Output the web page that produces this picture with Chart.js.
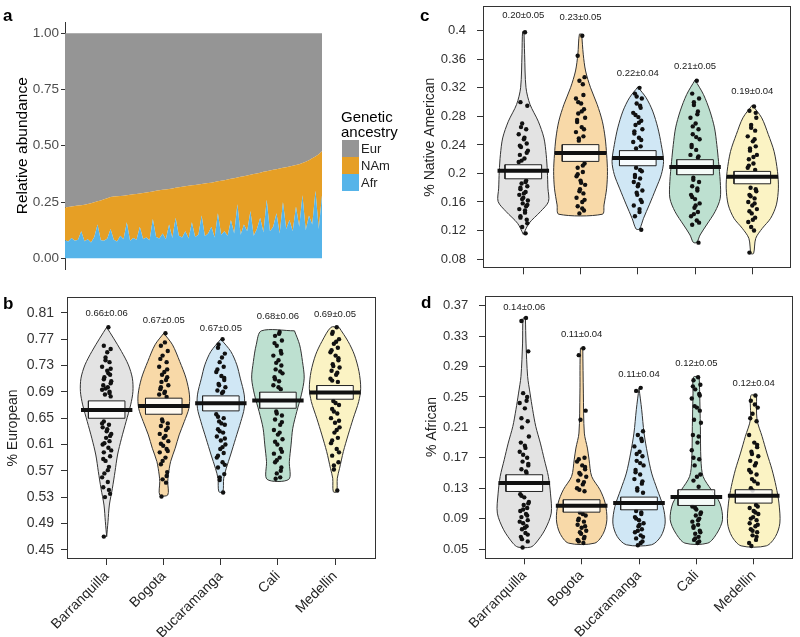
<!DOCTYPE html>
<html>
<head>
<meta charset="utf-8">
<script src="https://cdn.jsdelivr.net/npm/chart.js@4.4.1/dist/chart.umd.min.js"></script>
<style>
  body { margin: 0; background: #fff; font-family: "Liberation Sans", Arial, sans-serif; }
  #fig { position: relative; width: 800px; height: 637px; overflow: hidden; }
  canvas { position: absolute; }
  .tag { position: absolute; font-weight: bold; font-size: 17px; line-height: 17px; color: #000; }
  .legtitle { position: absolute; left: 341px; top: 109px; font-size: 15px; line-height: 15px; color: #000; }
  .key { position: absolute; left: 342px; width: 17px; height: 17px; }
  .keylab { position: absolute; left: 361px; font-size: 13px; line-height: 17px; color: #222; }
</style>
</head>
<body>
<div id="fig">
  <canvas id="panelA" width="400" height="280" style="left:0;top:0;width:400px;height:280px"></canvas>
  <canvas id="panelB" width="400" height="357" style="left:0;top:280px;width:400px;height:357px"></canvas>
  <canvas id="panelC" width="400" height="290" style="left:400px;top:0;width:400px;height:290px"></canvas>
  <canvas id="panelD" width="400" height="347" style="left:400px;top:290px;width:400px;height:347px"></canvas>

  <div class="tag" style="left:3px;top:7px">a</div>
  <div class="tag" style="left:3px;top:295px">b</div>
  <div class="tag" style="left:420px;top:7px">c</div>
  <div class="tag" style="left:421px;top:294px">d</div>

  <div class="legtitle">Genetic<br>ancestry</div>
  <div id="legend"></div>
</div>

<script>
Chart.defaults.font.family = "'Liberation Sans', Arial, sans-serif";

// ---------- panel a: per-sample ancestry, sorted ----------
const ancestry = ['Eur', 'NAm', 'Afr'];
const ancestryColors = ['#959595', '#E69F25', '#56B4E9'];
// Afr + NAm (upper edge of the orange band)
const nonEur = [0.226,0.228,0.230,0.232,0.234,0.236,0.238,0.241,
  0.245,0.249,0.253,0.257,0.262,0.267,0.272,
  0.275,0.276,0.277,0.278,0.280,0.282,0.284,
  0.286,0.288,0.290,0.292,0.294,0.297,0.300,
  0.302,0.304,0.306,0.308,0.310,0.313,0.316,
  0.318,0.320,0.322,0.324,0.326,0.328,0.330,
  0.332,0.334,0.336,0.339,0.342,0.344,0.347,
  0.350,0.353,0.356,0.359,0.362,0.365,0.368,
  0.371,0.374,0.377,0.380,0.384,0.387,0.390,
  0.393,0.396,0.399,0.402,0.405,0.408,0.411,
  0.414,0.418,0.423,0.429,0.436,0.444,
  0.452,0.462,0.476];
const afr = [0.080,0.075,0.090,0.078,0.082,0.120,0.076,0.085,0.070,0.095,
  0.150,0.080,0.078,0.088,0.130,0.082,0.075,0.100,0.085,0.160,
  0.078,0.090,0.082,0.140,0.086,0.092,0.080,0.175,0.095,0.088,
  0.110,0.085,0.150,0.090,0.180,0.100,0.092,0.120,0.088,0.160,
  0.095,0.105,0.190,0.098,0.110,0.140,0.092,0.200,0.105,0.120,
  0.100,0.170,0.110,0.240,0.105,0.150,0.120,0.210,0.100,0.130,
  0.180,0.115,0.260,0.120,0.140,0.200,0.110,0.250,0.130,0.170,
  0.120,0.230,0.140,0.280,0.125,0.190,0.150,0.300,0.130,0.280];
const abundanceTicks = [0, 0.25, 0.5, 0.75, 1];
const abundanceLabels = ['0.00', '0.25', '0.50', '0.75', '1.00'];

// ---------- panels b-d: violins by city ----------
const cities = ['Barranquilla', 'Bogota', 'Bucaramanga', 'Cali', 'Medellin'];
const violinFill = ['#e3e3e3', '#f8d9a8', '#d0e7f5', '#bde0d0', '#fbf3c4'];
const jitter = [0.03,-0.05,0.07,-0.02,0.05,-0.08,0.01,0.06,-0.04,0.08,-0.06,0.02,-0.08,0.05,-0.03,0.07,-0.05,0.04,-0.07,0.00,0.08,-0.01,0.05,-0.07,0.03,-0.05,0.06,-0.02,0.04,-0.04,0.02,-0.06,0.06,-0.03,0.04,-0.05,0.01,-0.02,0.07];

// b: % European
const euTicks = [0.45,0.49,0.53,0.57,0.61,0.65,0.69,0.73,0.77,0.81];
const euProfY = [
  [0.788,0.7715,0.7512,0.7309,0.7107,0.6904,0.6701,0.6448,0.6194,0.594,0.5687,0.5434,0.518,0.4927,0.4699],
  [0.779,0.7614,0.7360,0.7107,0.6853,0.6650,0.6448,0.6245,0.6042,0.5839,0.5636,0.5535,0.5332],
  [0.770,0.7512,0.7309,0.7107,0.6853,0.6650,0.6448,0.6194,0.5940,0.5738,0.5586,0.5383],
  [0.7826,0.7614,0.7360,0.7107,0.6853,0.6600,0.6346,0.6093,0.5839,0.557],
  [0.788,0.7664,0.7461,0.7208,0.6954,0.6752,0.6498,0.6245,0.5991,0.5738,0.5586,0.5383]
];
const euProfW = [
  [0,0.12,0.26,0.38,0.45,0.46,0.42,0.34,0.26,0.19,0.146,0.10,0.047,0.023,0],
  [0,0.153,0.28,0.39,0.45,0.44,0.36,0.27,0.2,0.12,0.08,0.07,0.07],
  [0,0.175,0.28,0.34,0.41,0.41,0.35,0.26,0.17,0.095,0.05,0.035],
  [0.29,0.38,0.43,0.46,0.41,0.33,0.26,0.23,0.2,0.19],
  [0.07,0.23,0.34,0.42,0.45,0.415,0.32,0.23,0.146,0.08,0.04,0.03]
];
const euBoxHi = [0.6762, 0.6803, 0.6838, 0.6894, 0.6995];
const euBoxLo = [0.6498, 0.6559, 0.6610, 0.6650, 0.6787];
const euMean = [0.6625, 0.6686, 0.6726, 0.6767, 0.6889];
const euPoints = [
  [0.788,0.760,0.755,0.742,0.735,0.728,0.722,0.716,0.712,0.706,0.700,0.697,0.693,0.690,0.686,0.683,0.645,0.640,0.636,0.630,0.626,0.620,0.615,0.610,0.605,0.598,0.592,0.585,0.576,0.566,0.553,0.545,0.535,0.530,0.541,0.470,
   0.750,0.738,0.725,0.718,0.709,0.703,0.695,0.688,0.642,0.633,0.623,0.612,0.601,0.588,0.571,0.560],
  [0.779,0.760,0.752,0.745,0.735,0.728,0.720,0.712,0.705,0.700,0.694,0.690,0.686,0.682,0.648,0.642,0.638,0.632,0.626,0.620,0.615,0.608,0.603,0.598,0.590,0.580,0.568,0.557,0.552,0.531,
   0.765,0.740,0.724,0.716,0.708,0.697,0.688,0.645,0.635,0.623,0.611,0.600,0.585,0.562],
  [0.770,0.757,0.748,0.735,0.728,0.720,0.714,0.708,0.702,0.697,0.692,0.688,0.656,0.650,0.645,0.640,0.633,0.628,0.622,0.616,0.610,0.603,0.597,0.590,0.583,0.575,0.565,0.556,0.537,
   0.762,0.742,0.724,0.711,0.700,0.690,0.652,0.642,0.630,0.619,0.606,0.593,0.579,0.560],
  [0.781,0.775,0.768,0.760,0.752,0.745,0.738,0.730,0.724,0.718,0.712,0.706,0.700,0.694,0.660,0.654,0.648,0.640,0.632,0.625,0.618,0.610,0.603,0.596,0.590,0.583,0.575,0.566,0.560,0.558,
   0.778,0.764,0.748,0.734,0.721,0.709,0.697,0.657,0.644,0.628,0.614,0.599,0.586,0.570],
  [0.788,0.778,0.770,0.763,0.757,0.750,0.745,0.738,0.732,0.727,0.722,0.716,0.710,0.705,0.676,0.670,0.664,0.657,0.650,0.643,0.636,0.628,0.620,0.612,0.603,0.593,0.583,0.572,0.540,
   0.781,0.766,0.753,0.741,0.729,0.719,0.707,0.673,0.660,0.646,0.632,0.616,0.598,0.578]
];
const euStats = ['0.66±0.06', '0.67±0.05', '0.67±0.05', '0.68±0.06', '0.69±0.05'];
const euStatsAt = [0.8085, 0.7983, 0.7867, 0.8039, 0.808];

// c: % Native American
const naTicks = [0.08,0.12,0.16,0.2,0.24,0.28,0.32,0.36,0.4];
const naProfY = [
  [0.399,0.3672,0.3202,0.2968,0.2733,0.2498,0.2263,0.2029,0.1794,0.1606,0.1465,0.1301,0.1146],
  [0.3953,0.3672,0.3437,0.3202,0.2968,0.2733,0.2498,0.2263,0.2029,0.1794,0.1559,0.1428],
  [0.3212,0.3061,0.2874,0.2639,0.2404,0.2169,0.1982,0.1794,0.1559,0.1371,0.1221],
  [0.331,0.3108,0.2874,0.2639,0.2404,0.2169,0.1888,0.1653,0.1465,0.1277,0.1137,0.1033],
  [0.2958,0.2780,0.2545,0.2310,0.2029,0.1794,0.1559,0.1371,0.1231,0.1090,0.0878]
];
const naProfW = [
  [0.012,0.023,0.047,0.117,0.26,0.36,0.40,0.42,0.43,0.44,0.30,0.10,0],
  [0.02,0.047,0.088,0.175,0.29,0.38,0.43,0.456,0.47,0.456,0.41,0.38],
  [0,0.146,0.26,0.35,0.41,0.45,0.41,0.32,0.2,0.1,0.03],
  [0,0.146,0.26,0.34,0.38,0.41,0.44,0.44,0.35,0.2,0.088,0.03],
  [0,0.164,0.28,0.38,0.44,0.456,0.42,0.32,0.175,0.06,0.023]
];
const naBoxHi = [0.2122, 0.2404, 0.2320, 0.2193, 0.2029];
const naBoxLo = [0.1925, 0.2169, 0.2108, 0.1982, 0.1855];
const naMean = [0.2038, 0.2287, 0.2216, 0.2090, 0.1953];
const naPoints = [
  [0.398,0.300,0.295,0.270,0.262,0.255,0.248,0.242,0.237,0.232,0.226,0.221,0.216,0.190,0.186,0.182,0.178,0.174,0.170,0.166,0.162,0.158,0.154,0.150,0.145,0.140,0.135,0.125,0.116,
   0.265,0.250,0.239,0.229,0.218,0.188,0.180,0.172,0.164,0.156,0.148,0.138,0.130],
  [0.393,0.365,0.335,0.330,0.310,0.305,0.298,0.290,0.284,0.278,0.272,0.265,0.258,0.252,0.246,0.214,0.208,0.202,0.196,0.190,0.184,0.178,0.172,0.166,0.160,0.154,0.148,0.144,
   0.325,0.300,0.287,0.275,0.262,0.249,0.211,0.199,0.187,0.175,0.163,0.151],
  [0.320,0.312,0.305,0.298,0.292,0.285,0.279,0.274,0.268,0.262,0.256,0.250,0.244,0.238,0.208,0.203,0.198,0.193,0.188,0.182,0.176,0.170,0.163,0.155,0.146,0.140,0.121,
   0.308,0.295,0.282,0.271,0.259,0.247,0.235,0.205,0.195,0.185,0.173,0.160,0.150],
  [0.330,0.312,0.305,0.296,0.287,0.278,0.270,0.262,0.255,0.248,0.240,0.233,0.226,0.222,0.194,0.188,0.182,0.176,0.170,0.164,0.158,0.152,0.146,0.140,0.134,0.128,0.103,
   0.300,0.283,0.266,0.251,0.237,0.224,0.191,0.179,0.167,0.155,0.143,0.131],
  [0.294,0.288,0.278,0.268,0.260,0.252,0.245,0.238,0.232,0.226,0.220,0.214,0.208,0.205,0.180,0.175,0.170,0.165,0.160,0.155,0.150,0.144,0.138,0.132,0.120,0.089,
   0.285,0.264,0.248,0.235,0.223,0.211,0.178,0.168,0.158,0.147,0.135,0.125]
];
const naStats = ['0.20±0.05', '0.23±0.05', '0.22±0.04', '0.21±0.05', '0.19±0.04'];
const naStatsAt = [0.4221, 0.4183, 0.34, 0.3503, 0.3155];

// d: % African
const afTicks = [0.05,0.09,0.13,0.17,0.21,0.25,0.29,0.33,0.37];
const afProfY = [
  [0.3538,0.3209,0.2771,0.2551,0.2332,0.2113,0.1893,0.1674,0.1455,0.1235,0.0972,0.0753,0.0578,0.0525],
  [0.3143,0.2551,0.2025,0.1828,0.1674,0.1455,0.1279,0.1104,0.0885,0.0709,0.0578],
  [0.2617,0.2332,0.2025,0.1762,0.1499,0.1279,0.1060,0.0841,0.0665,0.0556],
  [0.2762,0.2551,0.2113,0.1674,0.1455,0.1279,0.1104,0.0885,0.0709,0.0578],
  [0.2520,0.2200,0.1981,0.1762,0.1542,0.1323,0.1104,0.0841,0.0665,0.0542]
];
const afProfW = [
  [0.02,0.03,0.058,0.1,0.146,0.2,0.28,0.35,0.42,0.456,0.47,0.36,0.2,0.11],
  [0.02,0.03,0.047,0.1,0.13,0.175,0.32,0.41,0.44,0.38,0.23],
  [0,0.047,0.088,0.146,0.22,0.32,0.42,0.456,0.38,0.22],
  [0.05,0.058,0.07,0.08,0.117,0.26,0.41,0.456,0.36,0.2],
  [0.05,0.058,0.146,0.23,0.32,0.39,0.44,0.456,0.38,0.22]
];
const afBoxHi = [0.1477, 0.1148, 0.1183, 0.1280, 0.1280];
const afBoxLo = [0.1257, 0.0985, 0.1016, 0.1073, 0.1104];
const afMean = [0.1367, 0.1069, 0.1104, 0.1183, 0.1200];
const afPoints = [
  [0.354,0.350,0.310,0.255,0.250,0.242,0.235,0.218,0.210,0.198,0.190,0.183,0.178,0.170,0.165,0.160,0.155,0.150,0.122,0.118,0.112,0.108,0.104,0.100,0.096,0.092,0.088,0.084,0.080,0.076,0.071,0.066,0.060,0.052,
   0.245,0.222,0.186,0.174,0.162,0.152,0.120,0.110,0.102,0.094,0.086,0.078,0.069,0.063],
  [0.314,0.305,0.232,0.220,0.170,0.165,0.160,0.155,0.150,0.145,0.140,0.135,0.130,0.126,0.098,0.094,0.090,0.086,0.082,0.078,0.074,0.070,0.066,0.062,0.058,
   0.168,0.158,0.148,0.138,0.128,0.096,0.088,0.080,0.072,0.064,0.060],
  [0.262,0.258,0.205,0.200,0.192,0.185,0.178,0.172,0.166,0.160,0.154,0.148,0.142,0.136,0.130,0.124,0.100,0.096,0.092,0.088,0.084,0.080,0.076,0.072,0.068,0.064,0.060,0.055,
   0.195,0.175,0.163,0.151,0.139,0.127,0.098,0.090,0.082,0.074,0.066,0.058],
  [0.276,0.272,0.266,0.260,0.254,0.248,0.236,0.232,0.220,0.216,0.200,0.190,0.180,0.168,0.160,0.148,0.140,0.132,0.106,0.102,0.098,0.094,0.090,0.086,0.082,0.078,0.074,0.070,0.066,0.062,0.058,
   0.264,0.252,0.238,0.198,0.170,0.145,0.104,0.096,0.088,0.080,0.072,0.064,0.060],
  [0.252,0.245,0.236,0.228,0.218,0.200,0.190,0.184,0.178,0.172,0.166,0.160,0.154,0.148,0.142,0.136,0.130,0.108,0.104,0.100,0.096,0.092,0.088,0.084,0.080,0.076,0.072,0.068,0.062,0.054,
   0.240,0.222,0.187,0.175,0.163,0.151,0.139,0.127,0.106,0.098,0.090,0.082,0.074,0.066,0.058]
];
const afStats = ['0.14±0.06', '0.11±0.04', '0.11±0.04', '0.12±0.05', '0.12±0.04'];
const afStatsAt = [0.3674, 0.3328, 0.2797, 0.2942, 0.2679];

const BOX_W = 0.32;   // half width of the mean box, in category units
const MEAN_W = 0.45;  // half length of the mean bar

// legend for panel a
const legend = document.getElementById('legend');
ancestry.forEach((name, i) => {
  const top = 140 + i * 17;
  legend.insertAdjacentHTML('beforeend',
    `<div class="key" style="top:${top}px;background:${ancestryColors[i]}"></div>` +
    `<div class="keylab" style="top:${top}px">${name}</div>`);
});

// ---------- panel a ----------
const nam = nonEur.map((t, i) => t - afr[i]);
const eur = nonEur.map(t => 1 - t);

new Chart(document.getElementById('panelA'), {
  type: 'line',
  data: {
    labels: afr.map((_, i) => i + 1),
    datasets: [
      { label: 'Afr', data: afr, backgroundColor: ancestryColors[2], fill: 'origin' },
      { label: 'NAm', data: nam, backgroundColor: ancestryColors[1], fill: '-1' },
      { label: 'Eur', data: eur, backgroundColor: ancestryColors[0], fill: '-1' }
    ]
  },
  options: {
    responsive: false,
    animation: false,
    events: [],
    elements: { line: { borderWidth: 0, tension: 0 }, point: { radius: 0 } },
    layout: { padding: { top: 22, right: 78, bottom: 10.5, left: 13.7 } },
    plugins: { legend: { display: false }, tooltip: { enabled: false } },
    scales: {
      x: { display: false, offset: false },
      y: {
        stacked: true,
        min: -0.05,
        max: 1.05,
        afterBuildTicks: s => { s.ticks = abundanceTicks.map(v => ({ value: v })); },
        afterFit: s => { s.width = 51.3; s.paddingTop = 0; s.paddingBottom = 0; },
        ticks: {
          callback: (v, i) => abundanceLabels[i],
          font: { size: 13.5 },
          color: '#4d4d4d',
          padding: 2
        },
        grid: { drawOnChartArea: false, drawTicks: true, tickLength: 4, color: '#333' },
        border: { display: true, color: '#333', width: 1 },
        title: { display: true, text: 'Relative abundance', font: { size: 15.5 }, color: '#000', padding: 0 }
      }
    }
  }
});

// ---------- violin panels ----------
const framePlugin = {
  id: 'frame',
  afterDatasetsDraw(chart) {
    const { ctx, chartArea: a } = chart;
    ctx.save();
    ctx.strokeStyle = '#333';
    ctx.lineWidth = 1;
    ctx.strokeRect(Math.round(a.left) + 0.5, Math.round(a.top) + 0.5,
      Math.round(a.right - a.left) - 1, Math.round(a.bottom - a.top) - 1);
    ctx.restore();
  }
};

const statsPlugin = {
  id: 'stats',
  afterDatasetsDraw(chart, args, opts) {
    const { ctx, scales: { x, y } } = chart;
    ctx.save();
    ctx.font = "9.5px 'Liberation Sans', Arial, sans-serif";
    ctx.fillStyle = '#1a1a1a';
    ctx.textAlign = 'center';
    ctx.textBaseline = 'middle';
    opts.text.forEach((t, i) => ctx.fillText(t, x.getPixelForValue(i), y.getPixelForValue(opts.at[i])));
    ctx.restore();
  }
};

function violinDatasets(p) {
  const sets = [];
  cities.forEach((city, i) => {
    const ys = p.profY[i], ws = p.profW[i];
    const right = ys.map((y, k) => ({ x: i + ws[k], y }));
    const left = ys.map((y, k) => ({ x: i - ws[k], y })).reverse();
    sets.push({
      label: city, data: right.concat(left, [right[0]]), showLine: true, fill: 'shape',
      backgroundColor: violinFill[i], borderColor: '#333', borderWidth: 1,
      tension: 0.3, pointRadius: 0, order: 4
    });
    const lo = p.boxLo[i], hi = p.boxHi[i];
    sets.push({
      data: [{ x: i - BOX_W, y: lo }, { x: i + BOX_W, y: lo }, { x: i + BOX_W, y: hi },
             { x: i - BOX_W, y: hi }, { x: i - BOX_W, y: lo }],
      showLine: true, fill: 'shape', backgroundColor: 'rgba(255,255,255,0.85)',
      borderColor: '#222', borderWidth: 1, tension: 0, pointRadius: 0, order: 2
    });
    sets.push({
      data: [{ x: i - MEAN_W, y: p.mean[i] }, { x: i + MEAN_W, y: p.mean[i] }],
      showLine: true, borderColor: '#111', borderWidth: 4, pointRadius: 0, order: 1
    });
  });
  const pts = [];
  p.points.forEach((list, i) => list.forEach((y, k) => pts.push({ x: i + jitter[k % jitter.length], y })));
  sets.push({ data: pts, pointRadius: 2.2, pointBackgroundColor: '#111', pointBorderWidth: 0, showLine: false, order: 3 });
  return sets;
}

function violinPanel(id, p) {
  new Chart(document.getElementById(id), {
    type: 'scatter',
    data: { datasets: violinDatasets(p) },
    plugins: [framePlugin, statsPlugin],
    options: {
      responsive: false,
      animation: false,
      events: [],
      layout: { padding: p.pad },
      plugins: {
        legend: { display: false },
        tooltip: { enabled: false },
        stats: { text: p.stats, at: p.statsAt }
      },
      scales: {
        x: {
          type: 'linear',
          min: p.xMin,
          max: p.xMax,
          afterBuildTicks: s => { s.ticks = cities.map((c, i) => ({ value: i })); },
          afterFit: s => { s.height = p.xHeight; s.paddingLeft = 0; s.paddingRight = 0; },
          ticks: {
            display: p.showCities,
            callback: v => cities[v],
            autoSkip: false,
            minRotation: 45,
            maxRotation: 45,
            font: { size: 14 },
            color: '#222',
            padding: 3
          },
          grid: { drawOnChartArea: false, drawTicks: true, tickLength: 6, color: '#333' },
          border: { display: false }
        },
        y: {
          min: p.yMin,
          max: p.yMax,
          afterBuildTicks: s => { s.ticks = p.ticks.map(v => ({ value: v })); },
          afterFit: s => { s.width = p.yWidth; s.paddingTop = 0; s.paddingBottom = 0; },
          ticks: {
            callback: (v, i) => String(p.ticks[i]),
            font: { size: p.tickSize },
            color: '#333',
            padding: p.tickPad
          },
          grid: { drawOnChartArea: false, drawTicks: true, tickLength: 6, color: '#333' },
          border: { display: false },
          title: { display: true, text: p.title, font: { size: 14 }, color: '#222', padding: 0 }
        }
      }
    }
  });
}

violinPanel('panelB', {
  profY: euProfY, profW: euProfW, boxHi: euBoxHi, boxLo: euBoxLo, mean: euMean,
  points: euPoints, stats: euStats, statsAt: euStatsAt, ticks: euTicks,
  title: '% European', yMin: 0.436, yMax: 0.834, xMin: -0.695, xMax: 4.718,
  pad: { top: 17, right: 24, bottom: 0, left: 4.6 }, yWidth: 62.4, xHeight: 78,
  showCities: true, tickSize: 14, tickPad: 7
});

violinPanel('panelC', {
  profY: naProfY, profW: naProfW, boxHi: naBoxHi, boxLo: naBoxLo, mean: naMean,
  points: naPoints, stats: naStats, statsAt: naStatsAt, ticks: naTicks,
  title: '% Native American', yMin: 0.067, yMax: 0.4348, xMin: -0.704, xMax: 4.676,
  pad: { top: 6, right: 9, bottom: 0, left: 21.6 }, yWidth: 61.4, xHeight: 21.7,
  showCities: false, tickSize: 13, tickPad: 11
});

violinPanel('panelD', {
  profY: afProfY, profW: afProfW, boxHi: afBoxHi, boxLo: afBoxLo, mean: afMean,
  points: afPoints, stats: afStats, statsAt: afStatsAt, ticks: afTicks,
  title: '% African', yMin: 0.0378, yMax: 0.3832, xMin: -0.685, xMax: 4.685,
  pad: { top: 5.7, right: 7, bottom: 0, left: 23.6 }, yWidth: 61.4, xHeight: 78.7,
  showCities: true, tickSize: 13, tickPad: 10.7
});
</script>
</body>
</html>
